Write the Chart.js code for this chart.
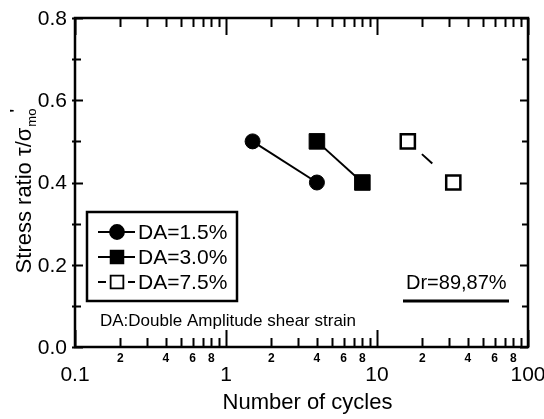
<!DOCTYPE html>
<html>
<head>
<meta charset="utf-8">
<script src="https://cdn.jsdelivr.net/npm/chart.js@4"></script>
<style>
  html, body { margin: 0; padding: 0; background: #fff; }
  #wrap { width: 544px; height: 419px; }
</style>
</head>
<body>
<div id="wrap"><canvas id="chart" width="544" height="419"></canvas></div>
<script>
// data
const seriesLabels = ['DA=1.5%', 'DA=3.0%', 'DA=7.5%'];
const cycles15 = [1.5, 4];
const ratio15 = [0.5, 0.4];
const cycles30 = [4, 8];
const ratio30 = [0.5, 0.4];
const cycles75 = [16, 32];
const ratio75 = [0.5, 0.4];

// axis ticks
const xMajorTicks = [0.1, 1, 10, 100];
const xMajorLabels = ['0.1', '1', '10', '100'];
const xMinorSteps = [2, 3, 4, 5, 6, 7, 8, 9];
const xMinorLabelSteps = [2, 4, 6, 8];
const yMajorTicks = [0, 0.2, 0.4, 0.6, 0.8];
const yMajorLabels = ['0.0', '0.2', '0.4', '0.6', '0.8'];
const yMinorTicks = [0.1, 0.3, 0.5, 0.7];

const noteText = 'DA:Double Amplitude shear strain';
const densityText = 'Dr=89,87%';

const FONT = '"Liberation Sans", Arial, sans-serif';

const toPoints = (xs, ys) => xs.map((x, i) => ({ x: x, y: ys[i] }));

// Axes frame, inward ticks, labels, titles, legend box
const decorPlugin = {
  id: 'decor',
  afterDraw(chart) {
    const { ctx, chartArea: { left, right, top, bottom } } = chart;
    const xs = chart.scales.x, ys = chart.scales.y;
    ctx.save();
    ctx.strokeStyle = '#000';
    ctx.fillStyle = '#000';

    // frame
    ctx.lineWidth = 2.5;
    ctx.strokeRect(left, top, right - left, bottom - top);

    // x ticks (bottom and top, inward)
    ctx.lineWidth = 2;
    const xTick = (v, len) => {
      const px = Math.round(xs.getPixelForValue(v)) + 0.5;
      ctx.beginPath();
      ctx.moveTo(px, bottom); ctx.lineTo(px, bottom - len);
      ctx.moveTo(px, top); ctx.lineTo(px, top + len);
      ctx.stroke();
    };
    xMajorTicks.forEach(v => xTick(v, 17));
    xMajorTicks.slice(0, -1).forEach(d => xMinorSteps.forEach(s => xTick(d * s, 9)));

    // y ticks (left and right, inward)
    const yTick = (v, len) => {
      const py = Math.round(ys.getPixelForValue(v)) + 0.5;
      ctx.beginPath();
      ctx.moveTo(left - 3, py); ctx.lineTo(left + len, py);
      ctx.moveTo(right, py); ctx.lineTo(right - len, py);
      ctx.stroke();
    };
    yMajorTicks.forEach(v => yTick(v, 8));
    yMinorTicks.forEach(v => yTick(v, 6));

    // x labels
    ctx.textAlign = 'center';
    ctx.textBaseline = 'middle';
    ctx.font = `21px ${FONT}`;
    xMajorTicks.forEach((v, i) => ctx.fillText(xMajorLabels[i], xs.getPixelForValue(v), bottom + 28));
    ctx.font = `bold 12px ${FONT}`;
    xMajorTicks.slice(0, -1).forEach(d => xMinorLabelSteps.forEach(s =>
      ctx.fillText(String(s), xs.getPixelForValue(d * s), bottom + 12)));

    // y labels
    ctx.textAlign = 'right';
    ctx.font = `21px ${FONT}`;
    yMajorTicks.forEach((v, i) => ctx.fillText(yMajorLabels[i], left - 8, ys.getPixelForValue(v) + 1));

    // x title
    ctx.textAlign = 'center';
    ctx.font = `22px ${FONT}`;
    ctx.fillText('Number of cycles', (left + right) / 2 + 6, bottom + 56);

    // y title (rotated, with subscript and prime)
    ctx.save();
    ctx.translate(31, (top + bottom) / 2 + 8);
    ctx.rotate(-Math.PI / 2);
    ctx.textBaseline = 'alphabetic';
    ctx.textAlign = 'left';
    const main = 'Stress ratio \u03c4/\u03c3';
    ctx.font = `22px ${FONT}`;
    const wMain = ctx.measureText(main).width;
    ctx.font = `13px ${FONT}`;
    const wSub = ctx.measureText('mo').width;
    const x0 = -(wMain + wSub + 2) / 2;
    ctx.font = `22px ${FONT}`;
    ctx.fillText(main, x0, 0);
    ctx.font = `13px ${FONT}`;
    ctx.fillText('mo', x0 + wMain + 1, 5);
    ctx.font = `bold 15px ${FONT}`;
    ctx.fillText('\'', x0 + wMain + wSub - 3, -11);
    ctx.restore();

    // legend box
    const box = { x: 87, y: 212, w: 150, h: 89 };
    ctx.lineWidth = 2.5;
    ctx.strokeRect(box.x, box.y, box.w, box.h);
    chart.data.datasets.forEach((ds, i) => {
      const cy = box.y + 20 + i * 25;
      const mx = 117;
      ctx.strokeStyle = '#000';
      ctx.lineWidth = 1.8;
      ctx.beginPath();
      if (ds.borderDash && ds.borderDash.length) {
        ctx.moveTo(98, cy); ctx.lineTo(106, cy);
        ctx.moveTo(128, cy); ctx.lineTo(135, cy);
      } else {
        ctx.moveTo(98, cy); ctx.lineTo(135, cy);
      }
      ctx.stroke();
      ctx.fillStyle = ds.pointBackgroundColor;
      ctx.strokeStyle = ds.pointBorderColor;
      Chart.helpers.drawPoint(ctx, {
        pointStyle: ds.pointStyle,
        radius: ds.pointStyle === 'circle' ? 7 : 9,
        borderWidth: ds.pointBorderWidth,
        rotation: 0
      }, mx, cy);
      ctx.fillStyle = '#000';
      ctx.textAlign = 'left';
      ctx.textBaseline = 'middle';
      ctx.font = `21px ${FONT}`;
      ctx.fillText(ds.label, 138, cy + 1);
    });

    // notes
    ctx.fillStyle = '#000';
    ctx.textAlign = 'left';
    ctx.textBaseline = 'middle';
    ctx.font = `17px ${FONT}`;
    ctx.fillText(noteText, 100, 321);
    ctx.font = `20px ${FONT}`;
    ctx.fillText(densityText, 406, 283);
    ctx.lineWidth = 3;
    ctx.beginPath();
    ctx.moveTo(403, 301); ctx.lineTo(509, 301);
    ctx.stroke();

    ctx.restore();
  }
};

new Chart(document.getElementById('chart').getContext('2d'), {
  type: 'line',
  data: {
    datasets: [
      {
        label: seriesLabels[0],
        data: toPoints(cycles15, ratio15),
        borderColor: '#000',
        borderWidth: 2,
        pointStyle: 'circle',
        pointRadius: 7.5,
        pointBackgroundColor: '#000',
        pointBorderColor: '#000',
        pointBorderWidth: 1
      },
      {
        label: seriesLabels[1],
        data: toPoints(cycles30, ratio30),
        borderColor: '#000',
        borderWidth: 2,
        pointStyle: 'rect',
        pointRadius: 11,
        pointBackgroundColor: '#000',
        pointBorderColor: '#000',
        pointBorderWidth: 1
      },
      {
        label: seriesLabels[2],
        data: toPoints(cycles75, ratio75),
        borderColor: '#000',
        borderWidth: 2,
        borderDash: [14, 19],
        borderDashOffset: 14,
        pointStyle: 'rect',
        pointRadius: 10,
        pointBackgroundColor: '#fff',
        pointBorderColor: '#000',
        pointBorderWidth: 2.5
      }
    ]
  },
  options: {
    responsive: false,
    animation: false,
    layout: { padding: { left: 75, top: 18, right: 16, bottom: 72 } },
    scales: {
      x: { type: 'logarithmic', min: 0.1, max: 100, display: false },
      y: { type: 'linear', min: 0, max: 0.8, display: false }
    },
    plugins: {
      legend: { display: false },
      tooltip: { enabled: false }
    }
  },
  plugins: [decorPlugin]
});
</script>
</body>
</html>
